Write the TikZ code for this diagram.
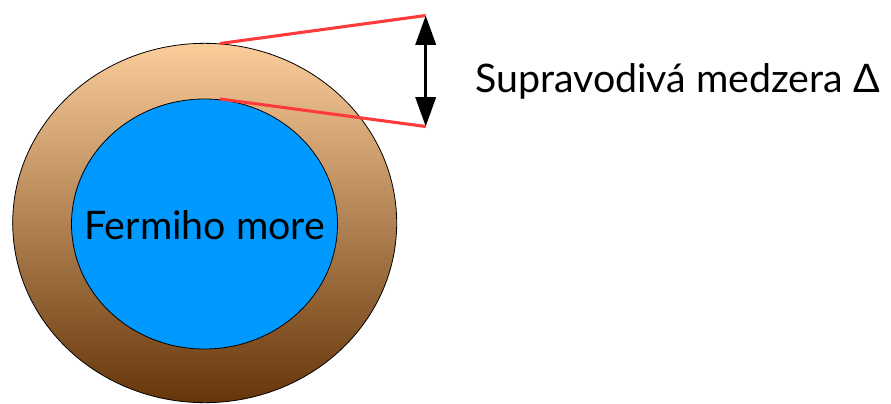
\documentclass[tikz,border=0pt]{standalone}
\usepackage{fontspec}
\setmainfont{Lato}
\usepackage{tikz}
\usetikzlibrary{arrows.meta,shapes.geometric}
\definecolor{shelltop}{RGB}{251,205,155}
\definecolor{shellbot}{RGB}{102,54,10}
\definecolor{fermiblue}{RGB}{0,153,255}
\definecolor{gapred}{RGB}{255,58,58}
\tikzset{
  shell/.style={ellipse, draw=black, line width=0.6pt, inner sep=0pt,
                top color=shelltop, bottom color=shellbot},
  sea/.style={ellipse, draw=black, line width=0.6pt, inner sep=0pt,
              fill=fermiblue},
  gapline/.style={draw=gapred, line width=2.3pt},
  gaparrow/.style={{Triangle[length=22pt,width=15pt]}-{Triangle[length=22pt,width=15pt]},
                   line width=2.6pt},
  label/.style={font=\fontsize{29.5pt}{36pt}\selectfont}
}

\begin{document}
\begin{tikzpicture}[x=0.75pt, y=-0.75pt]
  \useasboundingbox (0,0) rectangle (891,403);
  % obal a Fermiho more
  \node[shell, minimum width=288pt, minimum height=269.5pt] (obal) at (204.7,223) {};
  \node[sea, minimum width=199.5pt, minimum height=187.5pt] (more) at (204.5,224) {};
  \node[label, anchor=base, font=\fontsize{29.5pt}{34pt}\selectfont] (fermi) at (204.7,239) {Fermiho more};
  % medzera
  \coordinate (o1) at (220,43.5);
  \coordinate (o2) at (220,99);
  \coordinate (g1) at (425.7,15.5);
  \coordinate (g2) at (425.7,126.5);
  \draw[gapline] (o1) -- (g1);
  \draw[gapline] (o2) -- (g2);
  \draw[gaparrow] (g1) -- (g2);
  \node[label, anchor=base west, inner sep=0pt] (delta) at (475,92) {Supravodivá medzera Δ};
\end{tikzpicture}
\end{document}
